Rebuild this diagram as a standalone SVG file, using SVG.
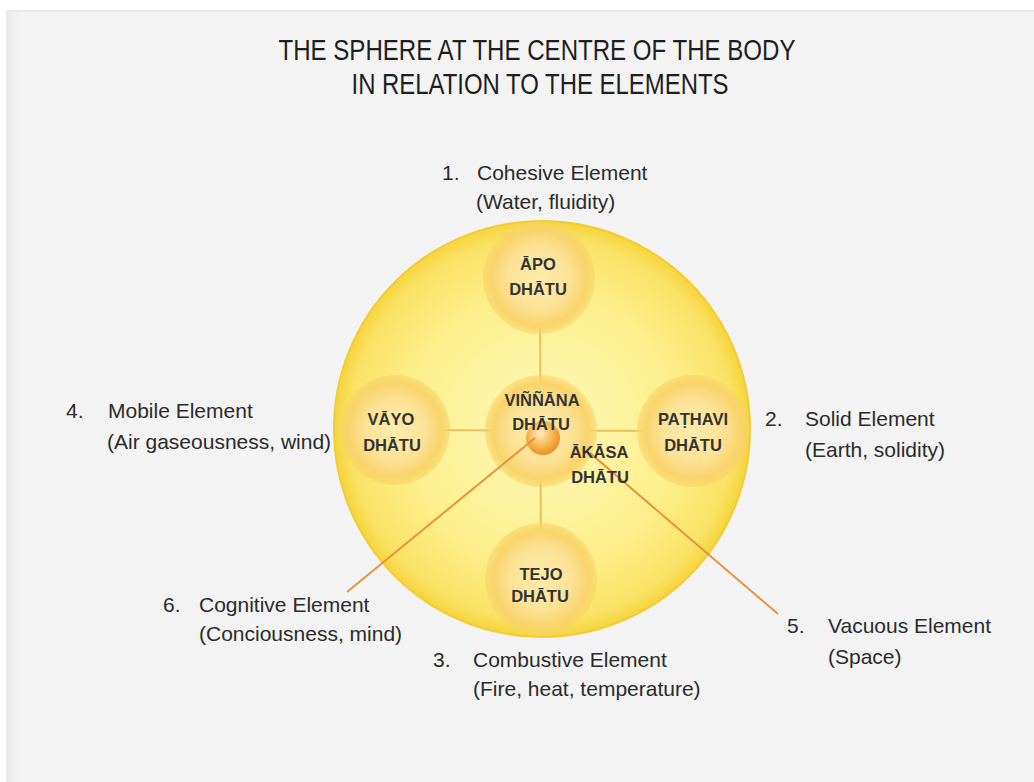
<svg xmlns="http://www.w3.org/2000/svg" width="1034" height="782" viewBox="0 0 1034 782">
<defs>
<radialGradient id="gBig" cx="50%" cy="50%" r="50%">
<stop offset="0%" stop-color="#fff8bc"/>
<stop offset="65%" stop-color="#fdef8c"/>
<stop offset="92%" stop-color="#fae266"/>
<stop offset="100%" stop-color="#f5d43c"/>
</radialGradient>
<radialGradient id="gSmall" cx="50%" cy="50%" r="50%">
<stop offset="0%" stop-color="#fdecac"/>
<stop offset="55%" stop-color="#fce296"/>
<stop offset="85%" stop-color="#f9d46c"/>
<stop offset="100%" stop-color="#f7d466" stop-opacity="0.55"/>
</radialGradient>
<radialGradient id="gBall" cx="45%" cy="40%" r="60%" fx="40%" fy="35%">
<stop offset="0%" stop-color="#fff0c0"/>
<stop offset="50%" stop-color="#f8c062"/>
<stop offset="100%" stop-color="#ea8e22"/>
</radialGradient>
<linearGradient id="gEdge" x1="0" y1="0" x2="1" y2="0">
<stop offset="0%" stop-color="#e9e9e9"/>
<stop offset="100%" stop-color="#f3f3f3"/>
</linearGradient>
<style>
.lbl{font-family:"Liberation Sans",Arial,sans-serif;font-size:21px;fill:#2b2b2b}
.nd{font-family:"Liberation Sans",Arial,sans-serif;font-size:16.5px;font-weight:bold;fill:#333;text-anchor:middle}
.ttl{font-family:"Liberation Sans",Arial,sans-serif;font-size:29px;fill:#1e1e1e;text-anchor:middle}
.cross{stroke:#e5c35a;stroke-width:2;fill:none}
.lead{stroke:#e8913a;stroke-width:2;fill:none}
.sm{fill:url(#gSmall)}
</style>
</defs>
<rect x="0" y="0" width="1034" height="782" fill="#ffffff"/>
<rect x="6" y="10" width="1028" height="772" fill="#f3f3f3"/>
<rect x="6" y="10" width="14" height="772" fill="url(#gEdge)"/>
<rect x="6" y="10" width="1028" height="2" fill="#eaeaea"/>

<g id="title">
<text class="ttl" x="537" y="60" textLength="517" lengthAdjust="spacingAndGlyphs">THE SPHERE AT THE CENTRE OF THE BODY</text>
<text class="ttl" x="540" y="94" textLength="377" lengthAdjust="spacingAndGlyphs">IN RELATION TO THE ELEMENTS</text>
</g>

<g id="sphere">
<circle cx="542" cy="429" r="208" fill="url(#gBig)" stroke="#f3cc34" stroke-width="2"/>
</g>

<g id="connectors">
<line class="cross" x1="540" y1="278" x2="541" y2="580"/>
<line class="cross" x1="395" y1="430" x2="693" y2="431"/>
</g>

<g id="apo"><circle class="sm" cx="539" cy="278" r="56"/>
<text class="nd" x="538" y="270">ĀPO</text><text class="nd" x="538" y="295">DHĀTU</text></g>
<g id="vayo"><circle class="sm" cx="395" cy="430" r="55"/>
<text class="nd" x="391" y="425">VĀYO</text><text class="nd" x="392" y="451">DHĀTU</text></g>
<g id="pathavi"><circle class="sm" cx="693" cy="431" r="56"/>
<text class="nd" x="693" y="425">PAṬHAVI</text><text class="nd" x="693" y="451">DHĀTU</text></g>
<g id="tejo"><circle class="sm" cx="541" cy="579" r="56"/>
<text class="nd" x="541" y="580">TEJO</text><text class="nd" x="540" y="602">DHĀTU</text></g>
<g id="vinnana"><circle class="sm" cx="541" cy="431" r="56"/>
<circle cx="543" cy="438" r="17" fill="url(#gBall)"/>
<text class="nd" x="542" y="406">VIÑÑĀNA</text><text class="nd" x="541" y="430">DHĀTU</text></g>

<g id="leaders">
<line class="lead" x1="535" y1="438" x2="347" y2="592"/>
<line class="lead" x1="590" y1="453" x2="778" y2="614"/>
</g>

<g id="akasa">
<text class="nd" x="599" y="458">ĀKĀSA</text><text class="nd" x="600" y="483">DHĀTU</text>
</g>

<g id="label1"><text class="lbl" x="442" y="180">1.</text><text class="lbl" x="477" y="180">Cohesive Element</text><text class="lbl" x="476" y="209">(Water, fluidity)</text></g>
<g id="label2"><text class="lbl" x="765" y="426">2.</text><text class="lbl" x="805" y="426">Solid Element</text><text class="lbl" x="805" y="457">(Earth, solidity)</text></g>
<g id="label3"><text class="lbl" x="433" y="667">3.</text><text class="lbl" x="473" y="667">Combustive Element</text><text class="lbl" x="473" y="696">(Fire, heat, temperature)</text></g>
<g id="label4"><text class="lbl" x="66" y="418">4.</text><text class="lbl" x="108" y="418">Mobile Element</text><text class="lbl" x="107" y="449">(Air gaseousness, wind)</text></g>
<g id="label5"><text class="lbl" x="787" y="633">5.</text><text class="lbl" x="828" y="633">Vacuous Element</text><text class="lbl" x="828" y="664">(Space)</text></g>
<g id="label6"><text class="lbl" x="163" y="612">6.</text><text class="lbl" x="199" y="612">Cognitive Element</text><text class="lbl" x="199" y="641">(Conciousness, mind)</text></g>
</svg>
